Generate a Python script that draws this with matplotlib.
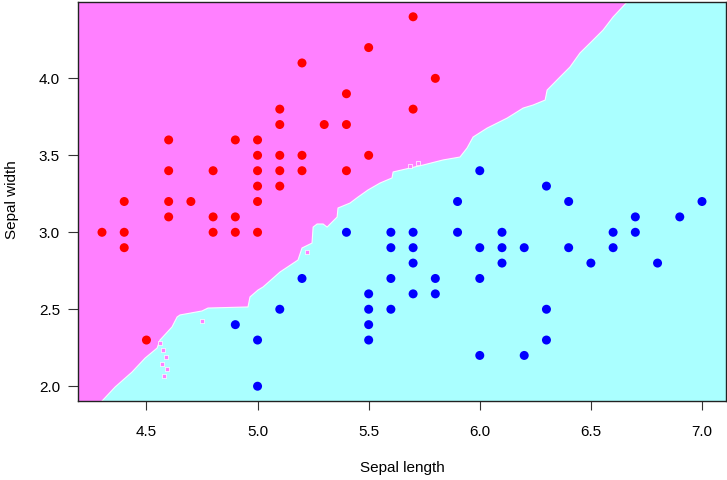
import numpy as np
import matplotlib.pyplot as plt
from matplotlib.patches import Polygon

plt.rcParams['font.family'] = ['Liberation Sans', 'DejaVu Sans']

# Sepal measurements, setosa (red) and versicolor (blue)
setosa_length = [4.3, 4.4, 4.4, 4.4, 4.5, 4.6, 4.6, 4.6, 4.6, 4.7, 4.8, 4.8, 4.8,
                 4.9, 4.9, 4.9, 5.0, 5.0, 5.0, 5.0, 5.0, 5.0, 5.1, 5.1, 5.1, 5.1,
                 5.1, 5.2, 5.2, 5.2, 5.3, 5.4, 5.4, 5.4, 5.5, 5.5, 5.7, 5.7, 5.8]
setosa_width = [3.0, 3.2, 3.0, 2.9, 2.3, 3.6, 3.4, 3.2, 3.1, 3.2, 3.4, 3.1, 3.0,
                3.6, 3.1, 3.0, 3.6, 3.5, 3.4, 3.3, 3.2, 3.0, 3.8, 3.7, 3.5, 3.4,
                3.3, 4.1, 3.5, 3.4, 3.7, 3.9, 3.7, 3.4, 4.2, 3.5, 4.4, 3.8, 4.0]

versi_length = [4.9, 5.0, 5.0, 5.1, 5.2, 5.4, 5.5, 5.5, 5.5, 5.5, 5.6, 5.6, 5.6,
                5.6, 5.7, 5.7, 5.7, 5.7, 5.8, 5.8, 5.9, 5.9, 6.0, 6.0, 6.0, 6.0,
                6.1, 6.1, 6.1, 6.2, 6.2, 6.3, 6.3, 6.3, 6.4, 6.4, 6.5, 6.6, 6.6,
                6.7, 6.7, 6.8, 6.9, 7.0]
versi_width = [2.4, 2.3, 2.0, 2.5, 2.7, 3.0, 2.6, 2.5, 2.4, 2.3, 3.0, 2.9, 2.7,
               2.5, 3.0, 2.9, 2.8, 2.6, 2.7, 2.6, 3.2, 3.0, 3.4, 2.9, 2.7, 2.2,
               3.0, 2.9, 2.8, 2.9, 2.2, 3.3, 2.5, 2.3, 3.2, 2.9, 2.8, 3.0, 2.9,
               3.1, 3.0, 2.8, 3.1, 3.2]

# classifier decision boundary (setosa region is above/left of it)
boundary_x = [4.300, 4.359, 4.435, 4.494, 4.548, 4.561, 4.615, 4.638, 4.651, 4.750,
              4.777, 4.957, 4.966, 5.002, 5.025, 5.101, 5.182, 5.200, 5.245, 5.250,
              5.268, 5.295, 5.313, 5.358, 5.362, 5.416, 5.452, 5.497, 5.551, 5.605,
              5.610, 5.745, 5.835, 5.911, 5.943, 5.970, 6.033, 6.123, 6.195, 6.240,
              6.294, 6.303, 6.361, 6.406, 6.451, 6.510, 6.555, 6.600, 6.663]
boundary_y = [1.904, 1.995, 2.092, 2.183, 2.248, 2.300, 2.385, 2.450, 2.463, 2.489,
              2.508, 2.515, 2.580, 2.625, 2.645, 2.742, 2.820, 2.898, 2.930, 3.034,
              3.054, 3.054, 3.034, 3.099, 3.158, 3.190, 3.229, 3.275, 3.320, 3.353,
              3.392, 3.437, 3.470, 3.489, 3.548, 3.619, 3.677, 3.742, 3.807, 3.827,
              3.859, 3.924, 4.009, 4.074, 4.165, 4.249, 4.314, 4.399, 4.496]

# stray grid cells classified as setosa inside the versicolor region
island_x = [4.561, 4.574, 4.588, 4.570, 4.593, 4.579, 4.750, 5.686, 5.722, 5.223]
island_y = [2.281, 2.235, 2.190, 2.144, 2.112, 2.067, 2.424, 3.431, 3.450, 2.872]

xlim = (4.192, 7.108)
ylim = (1.904, 4.496)

fig = plt.figure(figsize=(7.27, 4.8), dpi=100)
ax = fig.add_axes([78 / 727, 79 / 480, 648 / 727, 399 / 480])
ax.set_facecolor('#aaffff')

# setosa region: boundary closed off through the upper-left corner
poly = list(zip(boundary_x, boundary_y))
poly += [(boundary_x[-1], ylim[1] + 1), (xlim[0] - 1, ylim[1] + 1),
         (xlim[0] - 1, ylim[0] - 1), (boundary_x[0], ylim[0] - 1)]
ax.add_patch(Polygon(poly, closed=True, facecolor='#ff80ff', edgecolor='none', zorder=1))
ax.plot(boundary_x, boundary_y, color='white', lw=0.8, alpha=0.9, zorder=2)
ax.scatter(island_x, island_y, s=6, marker='s', color='#ff80ff',
           edgecolors='white', linewidths=0.5, zorder=2)

ax.scatter(setosa_length, setosa_width, s=42, color='#ff0000', edgecolors='none', zorder=3)
ax.scatter(versi_length, versi_width, s=42, color='#0000ff', edgecolors='none', zorder=3)

ax.set_xlim(*xlim)
ax.set_ylim(*ylim)
ax.set_xticks([4.5, 5.0, 5.5, 6.0, 6.5, 7.0])
ax.set_yticks([2.0, 2.5, 3.0, 3.5, 4.0])
ax.tick_params(axis='x', length=6.5, width=0.8, pad=11, labelsize=11, color='#333333')
ax.tick_params(axis='y', length=7, width=0.8, pad=6, labelsize=11, color='#333333')
for s in ax.spines.values():
    s.set_color('#222222')
    s.set_linewidth(1.0)

fig.text(402 / 727, 1 - 468 / 480, 'Sepal length', ha='center', va='center', fontsize=11)
fig.text(12 / 727, 1 - 200 / 480, 'Sepal width', ha='center', va='center',
         rotation=90, fontsize=11)

fig.savefig('out.png', dpi=100)
